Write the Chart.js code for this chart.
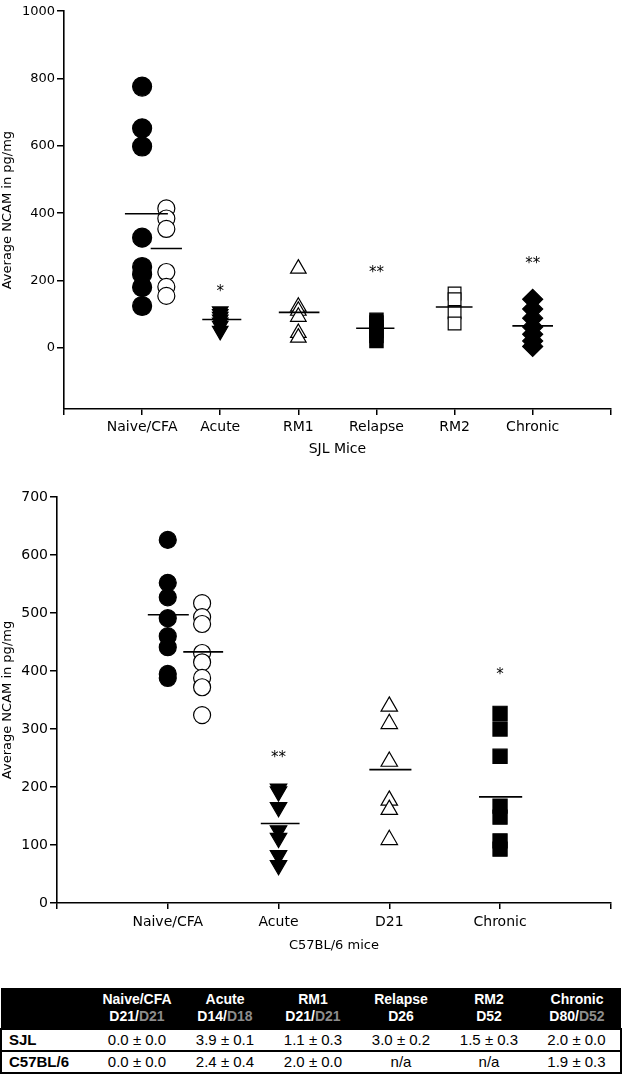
<!DOCTYPE html>
<html>
<head>
<meta charset="utf-8">
<script src="https://cdn.jsdelivr.net/npm/chart.js@4.4.1/dist/chart.umd.min.js"></script>
<style>
  html, body { margin: 0; padding: 0; background: #fff; }
  body { width: 622px; height: 1075px; position: relative; overflow: hidden; }
  #sjlChart { position: absolute; left: 0; top: 0; }
  #c57Chart { position: absolute; left: 0; top: 470px; }
  #scoreTable {
    position: absolute; left: 0; top: 988px; width: 622px;
    border-collapse: collapse; table-layout: fixed;
    font-family: "Liberation Sans", Arial, sans-serif; color: #000;
  }
  #scoreTable th {
    background: #000; color: #fff; font-weight: bold; font-size: 14px;
    line-height: 17px; padding: 3px 0; text-align: center;
  }
  #scoreTable th .alt { color: #8c8c8c; }
  #scoreTable td {
    font-size: 15px; line-height: 18px; padding: 1px 0 1px 0; text-align: center;
    border-top: 2px solid #000; border-bottom: 2px solid #000;
  }
  #scoreTable td.rowLabel { text-align: left; font-weight: bold; padding-left: 7px; border-left: 2px solid #000; }
  #scoreTable td:last-child { border-right: 2px solid #000; }
</style>
</head>
<body>
<canvas id="sjlChart" width="622" height="462"></canvas>
<canvas id="c57Chart" width="622" height="490"></canvas>
<table id="scoreTable">
  <colgroup><col style="width:92px"><col><col><col><col><col><col></colgroup>
  <thead><tr id="headRow"><th></th></tr></thead>
  <tbody id="scoreBody"></tbody>
</table>
<script>
// ---- SJL mice (top panel) ----
const sjlCategories = ['Naive/CFA', 'Acute', 'RM1', 'Relapse', 'RM2', 'Chronic'];
const sjlNaive   = [776, 652, 598, 327, 240, 218, 180, 124];
const sjlCfa     = [414, 384, 353, 225, 181, 154];
const sjlAcute   = [108, 100, 92, 84, 75, 65, 50];
const sjlRm1     = [235, 122, 110, 92, 44, 30];
const sjlRelapse = [83, 75, 62, 50, 35, 20];
const sjlRm2     = [161, 144, 105, 72];
const sjlChronic = [144, 115, 88, 62, 40, 20, 4];
const sjlMeans   = [398, 295, 84, 105, 58, 121, 65]; // naive, cfa, acute, rm1, relapse, rm2, chronic
const sjlYTicks  = [0, 200, 400, 600, 800, 1000];
const sjlStars   = ['', '*', '', '**', '', '**'];
const sjlStarAt  = [0, 180, 0, 237, 0, 263];

// ---- C57BL/6 mice (bottom panel) ----
const c57Categories = ['Naive/CFA', 'Acute', 'D21', 'Chronic'];
const c57Naive   = [626, 552, 527, 491, 460, 441, 395, 388];
const c57Cfa     = [517, 493, 481, 431, 415, 388, 372, 324];
const c57Acute   = [197, 192, 165, 125, 112, 82, 65];
const c57D21     = [339, 309, 244, 177, 161, 109];
const c57Chronic = [327, 300, 253, 167, 148, 107, 93];
const c57Means   = [497, 433, 137, 230, 183]; // naive, cfa, acute, d21, chronic
const c57YTicks  = [0, 100, 200, 300, 400, 500, 600, 700];
const c57Stars   = ['', '**', '', '*'];
const c57StarAt  = [0, 258, 0, 401];

// ---- clinical score table ----
const tableGroups  = ['Naive/CFA', 'Acute', 'RM1', 'Relapse', 'RM2', 'Chronic'];
const tableDays    = ['D21', 'D14', 'D21', 'D26', 'D52', 'D80'];
const tableDaysAlt = ['D21', 'D18', 'D21', '', '', 'D52'];
const tableStrains = ['SJL', 'C57BL/6'];
const sjlScores    = ['0.0 ± 0.0', '3.9 ± 0.1', '1.1 ± 0.3', '3.0 ± 0.2', '1.5 ± 0.3', '2.0 ± 0.0'];
const c57Scores    = ['0.0 ± 0.0', '2.4 ± 0.4', '2.0 ± 0.0', 'n/a', 'n/a', '1.9 ± 0.3'];

const FONT = '"DejaVu Sans", sans-serif';

function pointSet(x, values, style, radius, filled, rotation) {
  return {
    data: values.map(v => ({ x: x, y: v })),
    pointStyle: style,
    pointRadius: radius,
    pointHoverRadius: radius,
    pointRotation: rotation || 0,
    pointBackgroundColor: filled ? '#000' : '#fff',
    pointBorderColor: '#000',
    pointBorderWidth: 1.2,
    showLine: false,
    order: 2
  };
}

function meanLine(x, mean, left, right) {
  return {
    data: [{ x: x - left, y: mean }, { x: x + right, y: mean }],
    showLine: true,
    pointRadius: 0,
    borderColor: '#000',
    borderWidth: 1.6,
    order: 1
  };
}

const starPlugin = {
  id: 'stars',
  afterDatasetsDraw(chart, args, opts) {
    const { ctx, scales } = chart;
    ctx.save();
    ctx.font = '15px ' + FONT;
    ctx.fillStyle = '#000';
    ctx.textAlign = 'center';
    ctx.textBaseline = 'alphabetic';
    opts.marks.forEach((m, i) => {
      if (!m) return;
      ctx.fillText(m, scales.x.getPixelForValue(i + 1), scales.y.getPixelForValue(opts.levels[i]) + 9);
    });
    ctx.restore();
  }
};

function makeChart(id, s) {
  new Chart(document.getElementById(id), {
    type: 'scatter',
    data: { datasets: s.datasets },
    options: {
      responsive: false,
      animation: false,
      devicePixelRatio: 1,
      layout: { padding: { top: s.padTop, right: 1, left: 0, bottom: 0 } },
      plugins: {
        legend: { display: false },
        tooltip: { enabled: false },
        stars: { marks: s.stars, levels: s.starAt }
      },
      scales: {
        x: {
          type: 'linear',
          min: 0,
          max: s.categories.length + 1,
          afterFit: sc => { sc.height = s.xHeight; },
          ticks: {
            stepSize: 1, autoSkip: false, maxRotation: 0,
            padding: s.xTickPad,
            color: '#000',
            font: { family: FONT, size: 14 },
            callback: v => s.categories[v - 1] || ''
          },
          grid: { drawOnChartArea: false, tickLength: 6, color: '#000', lineWidth: 1.5 },
          border: { color: '#000', width: 1.6 },
          title: {
            display: true, text: s.xTitle, color: '#000',
            font: { family: FONT, size: s.xTitleSize },
            padding: { top: 0, bottom: s.xTitlePad }
          }
        },
        y: {
          min: s.yMin,
          max: s.yMax,
          afterFit: sc => { sc.width = s.yWidth; },
          afterBuildTicks: sc => { sc.ticks = s.yTicks.map(v => ({ value: v })); },
          ticks: {
            padding: 2, color: '#000',
            font: { family: FONT, size: s.yTickSize },
            callback: v => String(v)
          },
          grid: { drawOnChartArea: false, tickLength: 7, color: '#000', lineWidth: 1.5 },
          border: { color: '#000', width: 1.6 },
          title: {
            display: true, text: 'Average NCAM in pg/mg', color: '#000',
            font: { family: FONT, size: 13 },
            padding: { top: 0, bottom: 0 }
          }
        }
      }
    },
    plugins: [starPlugin]
  });
}

const CFA_SHIFT = 0.31;

makeChart('sjlChart', {
  categories: sjlCategories,
  xTitle: 'SJL Mice', xTitleSize: 14, xTitlePad: 4,
  xHeight: 53, xTickPad: 4, padTop: 7,
  yMin: -182, yMax: 1000, yTicks: sjlYTicks, yWidth: 64, yTickSize: 13,
  stars: sjlStars, starAt: sjlStarAt,
  datasets: [
    meanLine(1, sjlMeans[0], 0.22, 0.33),
    meanLine(1 + CFA_SHIFT, sjlMeans[1], 0.2, 0.2),
    meanLine(2, sjlMeans[2], 0.23, 0.27),
    meanLine(3, sjlMeans[3], 0.25, 0.27),
    meanLine(4, sjlMeans[4], 0.26, 0.23),
    meanLine(5, sjlMeans[5], 0.24, 0.23),
    meanLine(6, sjlMeans[6], 0.26, 0.26),
    pointSet(1, sjlNaive, 'circle', 9.5, true),
    pointSet(1 + CFA_SHIFT, sjlCfa, 'circle', 8.5, false),
    pointSet(2, sjlAcute, 'triangle', 9, true, 180),
    pointSet(3, sjlRm1, 'triangle', 9, false),
    pointSet(4, sjlRelapse, 'rect', 9.4, true),
    pointSet(5, sjlRm2, 'rect', 9, false),
    pointSet(6, sjlChronic, 'rectRot', 10, true)
  ]
});

makeChart('c57Chart', {
  categories: c57Categories,
  xTitle: 'C57BL/6 mice', xTitleSize: 13, xTitlePad: 7,
  xHeight: 57, xTickPad: 5, padTop: 27,
  yMin: 0, yMax: 700, yTicks: c57YTicks, yWidth: 57, yTickSize: 14,
  stars: c57Stars, starAt: c57StarAt,
  datasets: [
    meanLine(1, c57Means[0], 0.18, 0.19),
    meanLine(1 + CFA_SHIFT, c57Means[1], 0.17, 0.19),
    meanLine(2, c57Means[2], 0.16, 0.19),
    meanLine(3, c57Means[3], 0.18, 0.2),
    meanLine(4, c57Means[4], 0.19, 0.2),
    pointSet(1, c57Naive, 'circle', 8.5, true),
    pointSet(1 + CFA_SHIFT, c57Cfa, 'circle', 8.5, false),
    pointSet(2, c57Acute, 'triangle', 9.5, true, 180),
    pointSet(3, c57D21, 'triangle', 9.5, false),
    pointSet(4, c57Chronic, 'rect', 10, true)
  ]
});

// table
const headRow = document.getElementById('headRow');
tableGroups.forEach((g, i) => {
  const th = document.createElement('th');
  th.appendChild(document.createTextNode(g));
  th.appendChild(document.createElement('br'));
  th.appendChild(document.createTextNode(tableDays[i] + (tableDaysAlt[i] ? '/' : '')));
  if (tableDaysAlt[i]) {
    const span = document.createElement('span');
    span.className = 'alt';
    span.textContent = tableDaysAlt[i];
    th.appendChild(span);
  }
  headRow.appendChild(th);
});
const body = document.getElementById('scoreBody');
[sjlScores, c57Scores].forEach((scores, r) => {
  const tr = document.createElement('tr');
  const label = document.createElement('td');
  label.className = 'rowLabel';
  label.textContent = tableStrains[r];
  tr.appendChild(label);
  scores.forEach(v => {
    const td = document.createElement('td');
    td.textContent = v;
    tr.appendChild(td);
  });
  body.appendChild(tr);
});
</script>
</body>
</html>
